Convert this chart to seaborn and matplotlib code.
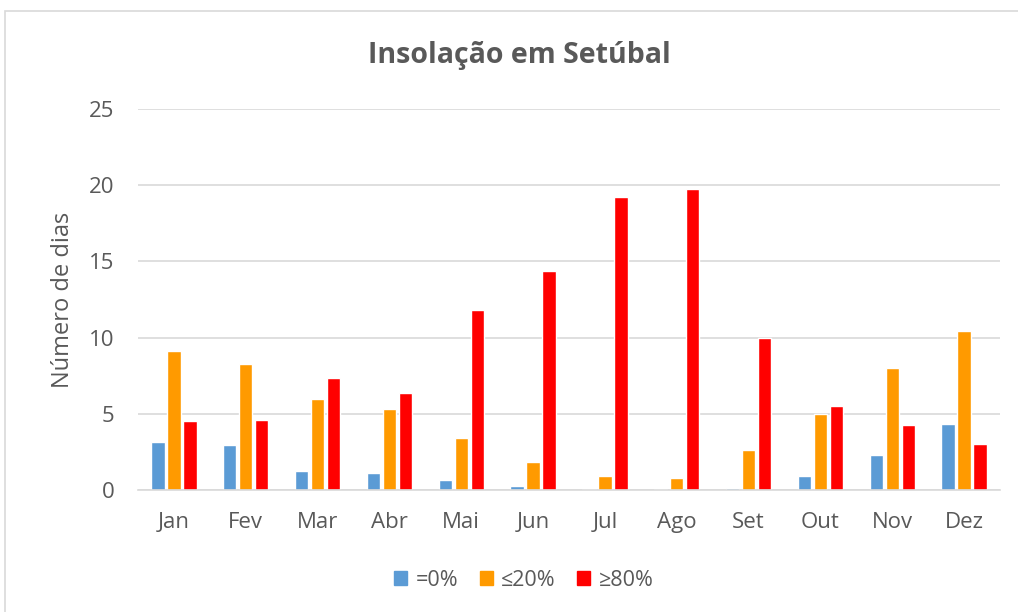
import pandas as pd
import matplotlib.pyplot as plt
import matplotlib.patches as mpatches
import seaborn as sns

meses = ['Jan', 'Fev', 'Mar', 'Abr', 'Mai', 'Jun', 'Jul', 'Ago', 'Set', 'Out', 'Nov', 'Dez']
zero = [3.15, 2.97, 1.25, 1.12, 0.66, 0.26, 0.08, 0.08, 0.15, 0.92, 2.3, 4.32]
ate20 = [9.1, 8.27, 6.0, 5.33, 3.41, 1.84, 0.95, 0.78, 2.6, 5.0, 8.0, 10.42]
acima80 = [4.5, 4.6, 7.35, 6.37, 11.8, 14.37, 19.25, 19.72, 9.98, 5.5, 4.25, 3.05]
series = ['=0%', '≤20%', '≥80%']
cores = ['#5B9BD5', '#FF9A00', '#FF0000']

df = pd.DataFrame({
    'mes': meses * 3,
    'dias': zero + ate20 + acima80,
    'serie': [series[0]] * 12 + [series[1]] * 12 + [series[2]] * 12,
})

sns.set_theme(style='white')
plt.rcParams['font.family'] = ['Open Sans', 'DejaVu Sans']
cinza = '#595959'

fig = plt.figure(figsize=(10.18, 6.12), dpi=100)
# moldura do gráfico
fig.patches.append(mpatches.Rectangle((5 / 1018, -0.05), 1.1, 1 - 11 / 612 + 0.05,
                                      transform=fig.transFigure, fill=False,
                                      edgecolor='#D9D9D9', linewidth=1.2))
ax = fig.add_axes([138 / 1018, 122 / 612, 862 / 1018, 381 / 612])

sns.barplot(data=df, x='mes', y='dias', hue='serie', palette=cores, width=0.67, gap=0.17,
            saturation=1, ax=ax, legend=True)

ax.set_ylim(0, 25)
ax.set_xlim(-0.5, 11.5)
ax.set_yticks(range(0, 26, 5))
ax.yaxis.grid(True, color='#D9D9D9', linewidth=1.2)
ax.set_axisbelow(True)
for s in ['top', 'right', 'left']:
    ax.spines[s].set_visible(False)
ax.spines['bottom'].set_color('#D9D9D9')
ax.spines['bottom'].set_linewidth(1.2)
ax.tick_params(axis='both', length=0, labelsize=16, colors=cinza)
ax.tick_params(axis='x', pad=16)
ax.tick_params(axis='y', pad=17)
ax.set_xlabel('')
ax.set_ylabel('Número de dias', fontsize=17, color=cinza, labelpad=10)

fig.text(519 / 1018, 1 - 55 / 612, 'Insolação em Setúbal', ha='center', va='center',
         fontsize=20.5, fontweight='bold', color=cinza)

ax.get_legend().remove()
handles = [mpatches.Patch(color=c) for c in cores]
fig.legend(handles, series, loc='center', bbox_to_anchor=(524 / 1018, 1 - 580 / 612), ncol=3,
           frameon=False, fontsize=15.5, labelcolor=cinza, handlelength=0.6, handleheight=0.6,
           handletextpad=0.4, columnspacing=1.0)

fig.savefig('out.png', dpi=100)
